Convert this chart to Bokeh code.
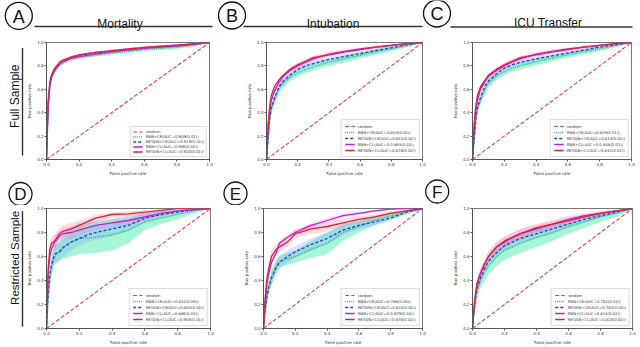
import math
import numpy as np
from bokeh.plotting import figure
from bokeh.layouts import column, row
from bokeh.models import Range1d, FixedTicker, PrintfTickFormatter
from bokeh.core.properties import value
from bokeh.embed import file_html
from bokeh.resources import INLINE

# ---------------- data ----------------
FPR = [0, .01, .02, .03, .05, .08, .1, .15, .2, .25, .3, .4, .5, .6, .7, .8, .9, 1.0]
RANDOM_FPR = [0, 1]
RANDOM_TPR = [0, 1]
TICKS = [0.0, 0.2, 0.4, 0.6, 0.8, 1.0]

COLUMN_TITLES = ["Mortality", "Intubation", "ICU Transfer"]
ROW_TITLES = ["Full Sample", "Restricted Sample"]
PANEL_LETTERS = ["A", "B", "C", "D", "E", "F"]
SERIES = ["RNN+CE", "RETAIN+CE", "RNN+CL", "RETAIN+CL"]

# Panel A - Mortality, full sample
A_RNN_CE = [0, .45, .62, .70, .76, .81, .83, .86, .875, .885, .895, .91, .925, .94, .95, .96, .975, 1]
A_RETAIN_CE = [0, .48, .64, .71, .77, .82, .84, .87, .89, .90, .91, .925, .94, .955, .965, .975, .985, 1]
A_RNN_CL = [0, .44, .62, .70, .76, .815, .835, .865, .88, .89, .90, .92, .935, .95, .96, .97, .985, 1]
A_RETAIN_CL = [0, .50, .66, .72, .78, .83, .85, .875, .895, .905, .915, .93, .945, .958, .968, .978, .99, 1]
A_RNN_CE_SD = [0, .03, .03, .025, .02, .02, .015, .015, .015, .015, .015, .015, .015, .015, .015, .015, .01, 0]
A_RETAIN_CE_SD = [0, .03, .025, .02, .015, .015, .012, .012, .012, .012, .012, .012, .01, .01, .01, .01, .008, 0]
A_RNN_CL_SD = [0, .03, .03, .025, .02, .02, .02, .02, .02, .02, .02, .015, .015, .015, .012, .012, .01, 0]
A_RETAIN_CL_SD = [0, .03, .025, .02, .015, .012, .01, .01, .01, .01, .01, .01, .01, .01, .008, .008, .006, 0]
A_AUC = ["0.909(0.01)", "0.919(0.01)", "0.906(0.02)", "0.920(0.01)"]

# Panel B - Intubation, full sample
B_RNN_CE = [0, .15, .33, .42, .50, .60, .64, .70, .74, .77, .79, .83, .86, .89, .92, .945, .975, 1]
B_RETAIN_CE = [0, .17, .35, .44, .52, .62, .66, .72, .77, .80, .82, .855, .88, .905, .93, .955, .98, 1]
B_RNN_CL = [0, .25, .40, .50, .58, .66, .70, .76, .80, .83, .86, .90, .925, .945, .96, .975, .99, 1]
B_RETAIN_CL = [0, .30, .45, .54, .62, .68, .71, .77, .81, .84, .87, .895, .92, .94, .96, .975, .99, 1]
B_RNN_CE_SD = [0, .03, .035, .035, .035, .035, .035, .03, .03, .03, .03, .03, .03, .025, .025, .02, .015, 0]
B_RETAIN_CE_SD = [0, .03, .03, .03, .025, .025, .025, .02, .02, .02, .02, .02, .02, .02, .015, .015, .01, 0]
B_RNN_CL_SD = [0, .03, .03, .03, .03, .025, .025, .025, .025, .025, .025, .02, .02, .015, .015, .01, .008, 0]
B_RETAIN_CL_SD = [0, .02, .02, .02, .02, .015, .015, .015, .015, .015, .015, .012, .012, .01, .01, .008, .005, 0]
B_AUC = ["0.834(0.02)", "0.851(0.02)", "0.0.883(0.02)", "0.878(0.02)"]

# Panel C - ICU transfer, full sample
C_RNN_CE = [0, .15, .32, .42, .50, .60, .65, .71, .75, .78, .80, .835, .865, .895, .92, .945, .975, 1]
C_RETAIN_CE = [0, .16, .34, .44, .53, .63, .67, .73, .78, .81, .83, .86, .885, .91, .935, .96, .98, 1]
C_RNN_CL = [0, .25, .40, .50, .60, .67, .71, .76, .80, .835, .86, .90, .925, .945, .96, .975, .99, 1]
C_RETAIN_CL = [0, .30, .45, .54, .62, .68, .72, .77, .81, .84, .87, .895, .92, .94, .96, .975, .99, 1]
C_RNN_CE_SD = [0, .03, .035, .035, .035, .035, .035, .03, .03, .03, .03, .03, .025, .025, .02, .02, .015, 0]
C_RETAIN_CE_SD = [0, .03, .03, .03, .03, .03, .025, .025, .02, .02, .02, .02, .02, .015, .015, .01, .01, 0]
C_RNN_CL_SD = [0, .03, .03, .03, .03, .025, .025, .025, .025, .025, .02, .02, .02, .015, .015, .01, .008, 0]
C_RETAIN_CL_SD = [0, .02, .02, .02, .02, .015, .015, .015, .015, .015, .015, .012, .012, .01, .01, .008, .005, 0]
C_AUC = ["0.829(0.01)", "0.814(0.02)", "0.0.848(0.01)", "0.841(0.01)"]

# Panel D - Mortality, restricted sample
D_RNN_CE = [0, .25, .40, .52, .61, .64, .68, .72, .75, .755, .76, .78, .82, .89, .92, .95, .98, 1]
D_RETAIN_CE = [0, .28, .45, .52, .62, .64, .67, .72, .75, .78, .80, .83, .86, .92, .95, .97, .99, 1]
D_RNN_CL = [0, .45, .60, .66, .72, .77, .79, .80, .82, .84, .86, .88, .90, .93, .96, .98, .99, 1]
D_RETAIN_CL = [0, .50, .66, .71, .73, .79, .81, .83, .86, .89, .92, .95, .955, .97, .985, 1.0, 1.0, 1]
D_RNN_CE_SD = [0, .05, .06, .07, .08, .08, .10, .12, .13, .13, .13, .13, .11, .07, .05, .04, .02, 0]
D_RETAIN_CE_SD = [0, .05, .06, .07, .07, .07, .07, .07, .06, .06, .06, .06, .05, .04, .03, .02, .01, 0]
D_RNN_CL_SD = [0, .06, .06, .06, .06, .05, .05, .05, .05, .04, .04, .04, .04, .03, .02, .01, .01, 0]
D_RETAIN_CL_SD = [0, .06, .06, .05, .05, .05, .05, .05, .04, .03, .03, .02, .02, .015, .01, 0, 0, 0]
D_AUC = ["0.831(0.03)", "0.855(0.02)", "0.886(0.03)", "0.908(0.01)"]

# Panel E - Intubation, restricted sample
E_RNN_CE = [0, .15, .25, .33, .42, .52, .56, .58, .60, .63, .66, .71, .80, .85, .90, .94, .97, 1]
E_RETAIN_CE = [0, .15, .25, .33, .42, .51, .55, .60, .64, .67, .70, .75, .82, .86, .89, .92, .97, 1]
E_RNN_CL = [0, .20, .35, .44, .55, .63, .71, .76, .80, .83, .86, .90, .94, .96, .98, .995, 1.0, 1]
E_RETAIN_CL = [0, .25, .40, .48, .60, .66, .68, .72, .79, .81, .83, .85, .88, .91, .93, .96, .98, 1]
E_RNN_CE_SD = [0, .04, .05, .05, .06, .06, .05, .05, .05, .06, .07, .09, .07, .05, .04, .03, .02, 0]
E_RETAIN_CE_SD = [0, .04, .05, .05, .05, .05, .05, .05, .05, .05, .05, .05, .04, .03, .03, .02, .01, 0]
E_RNN_CL_SD = [0, .03, .03, .03, .02, .02, .02, .02, .02, .02, .02, .02, .02, .015, .01, .005, 0, 0]
E_RETAIN_CL_SD = [0, .05, .05, .05, .05, .04, .04, .04, .04, .04, .04, .04, .03, .03, .02, .02, .01, 0]
E_AUC = ["0.786(0.03)", "0.845(0.02)", "0.0.879(0.02)", "0.878(0.02)"]

# Panel F - ICU transfer, restricted sample
F_RNN_CE = [0, .15, .25, .32, .40, .48, .52, .60, .65, .68, .71, .76, .80, .85, .89, .93, .96, 1]
F_RETAIN_CE = [0, .15, .26, .34, .42, .51, .56, .63, .69, .72, .75, .79, .83, .87, .91, .94, .97, 1]
F_RNN_CL = [0, .18, .30, .38, .46, .55, .60, .68, .72, .76, .79, .83, .87, .91, .94, .96, .98, 1]
F_RETAIN_CL = [0, .18, .30, .38, .46, .55, .60, .68, .73, .76, .79, .84, .87, .90, .93, .96, .98, 1]
F_RNN_CE_SD = [0, .04, .05, .06, .06, .07, .07, .08, .08, .08, .08, .08, .07, .06, .05, .04, .03, 0]
F_RETAIN_CE_SD = [0, .03, .04, .04, .04, .04, .04, .04, .04, .04, .04, .04, .04, .03, .03, .02, .01, 0]
F_RNN_CL_SD = [0, .03, .04, .04, .04, .04, .04, .04, .04, .04, .04, .03, .03, .03, .02, .02, .01, 0]
F_RETAIN_CL_SD = [0, .03, .04, .04, .04, .04, .04, .04, .04, .04, .04, .03, .03, .03, .02, .02, .01, 0]
F_AUC = ["0.781(0.01)", "0.762(0.03)", "0.814(0.02)", "0.818(0.02)"]

# ---------------- styling ----------------
RANDOM_COLOR = "#e8414e"
LINE_COLORS = ["#3cb371", "#2440d8", "#c020d0", "#e3203e"]
LINE_DASHES = ["1 1", "3 2", "solid", "solid"]
BAND_COLORS = ["#00e68a", "#6f8cff", "#e36cf0", "#ff6f7a"]
BAND_ALPHA = [0.35, 0.25, 0.22, 0.25]
AX_FONT = "DejaVu Sans"
TITLE_FONT = "Liberation Sans"


def roc_panel(w, h, bl, br, bt, bb, curves, sds, aucs, leg_h, leg_pad):
    p = figure(width=w, height=h, x_range=Range1d(0, 1), y_range=Range1d(0, 1),
               output_backend="svg", toolbar_location=None,
               min_border_left=bl, min_border_right=br, min_border_top=bt, min_border_bottom=bb)
    p.grid.visible = False
    p.outline_line_color = "#555555"
    p.outline_line_width = 0.8
    fpr = np.array(FPR)
    for y, sd, col, a in zip(curves, sds, BAND_COLORS, BAND_ALPHA):
        y = np.array(y)
        sd = np.array(sd)
        p.varea(x=fpr, y1=np.clip(y - sd, 0, 1), y2=np.clip(y + sd, 0, 1),
                fill_color=col, fill_alpha=a)
    p.line(RANDOM_FPR, RANDOM_TPR, line_color=RANDOM_COLOR, line_dash="4 2",
           line_width=1.1, legend_label="random")
    for name, y, auc, col, dash in zip(SERIES, curves, aucs, LINE_COLORS, LINE_DASHES):
        p.line(fpr, y, line_color=col, line_dash=dash, line_width=1.3,
               legend_label=f"{name}(AUC={auc})")
    for ax in (p.xaxis[0], p.yaxis[0]):
        ax.ticker = FixedTicker(ticks=TICKS)
        ax.formatter = PrintfTickFormatter(format="%.1f")
        ax.major_label_text_font_size = "4px"
        ax.major_label_text_font = AX_FONT
        ax.major_label_text_color = "#333333"
        ax.axis_label_text_font_size = "4px"
        ax.axis_label_text_font = AX_FONT
        ax.axis_label_text_font_style = "normal"
        ax.axis_label_text_color = "#333333"
        ax.major_tick_out = 2
        ax.major_tick_in = 0
        ax.minor_tick_out = 0
        ax.minor_tick_in = 0
        ax.major_label_standoff = 1
        ax.axis_label_standoff = 2
        ax.axis_line_color = "#555555"
        ax.major_tick_line_color = "#555555"
    p.xaxis[0].axis_label = "False positive rate"
    p.yaxis[0].axis_label = "True positive rate"
    lg = p.legend[0]
    lg.location = "bottom_right"
    lg.label_text_font_size = "3.8px"
    lg.label_text_font = AX_FONT
    lg.label_text_color = "#333333"
    lg.label_height = leg_h
    lg.glyph_height = leg_h
    lg.glyph_width = 10
    lg.label_standoff = 3
    lg.spacing = 0
    lg.padding = leg_pad
    lg.margin = 2
    lg.border_line_color = "#bbbbbb"
    lg.border_line_width = 0.6
    lg.background_fill_alpha = 0.85
    return p


def deco(w, h):
    p = figure(width=w, height=h, x_range=Range1d(0, w), y_range=Range1d(h, 0),
               output_backend="svg", toolbar_location=None, min_border=0,
               x_axis_location=None, y_axis_location=None)
    p.grid.visible = False
    p.outline_line_color = None
    return p


# ---------------- headers ----------------
H1 = deco(640, 31)
H1.scatter(x=[18.3, 231.5, 436.5], y=[15.3, 15, 13], size=27, marker="circle",
           fill_color=None, line_color="#111111", line_width=1.3)
H1.text(x=[18.3, 231.5, 436.5], y=[16, 15.7, 13.7], text=PANEL_LETTERS[:3],
        text_font=value(TITLE_FONT), text_font_size=value("18px"),
        text_align="center", text_baseline="middle", text_color="#111111")
H1.text(x=[119.5, 332.5, 547.5], y=[23.3, 23.3, 22.3], text=COLUMN_TITLES,
        text_font=value(TITLE_FONT), text_font_size=value("12px"),
        text_align="center", text_baseline="alphabetic", text_color="#111111")
H1.segment(x0=[34, 243, 450], y0=[26, 26, 26.5], x1=[212, 422, 632], y1=[26, 26, 26.5],
           line_color="#333333", line_width=1.4)

H2 = deco(640, 27)
H2.scatter(x=[20, 235, 436.7], y=[15.5, 15, 13], size=23, marker="circle",
           fill_color=None, line_color="#111111", line_width=1.3)
H2.text(x=[20, 235, 436.7], y=[16.1, 15.6, 13.6], text=PANEL_LETTERS[3:],
        text_font=value(TITLE_FONT), text_font_size=value("17px"),
        text_align="center", text_baseline="middle", text_color="#111111")

# ---------------- row labels ----------------
R1 = deco(24, 147)
R1.text(x=[14.8], y=[67.5], text=[ROW_TITLES[0]], angle=math.pi / 2,
        text_font=value(TITLE_FONT), text_font_size=value("12px"),
        text_align="center", text_baseline="middle", text_color="#111111")
R1.segment(x0=[22], y0=[7], x1=[22], y1=[142], line_color="#333333", line_width=1.4)

R2 = deco(24, 142)
R2.text(x=[14.8], y=[58.5], text=[ROW_TITLES[1]], angle=math.pi / 2,
        text_font=value(TITLE_FONT), text_font_size=value("11.5px"),
        text_align="center", text_baseline="middle", text_color="#111111")
R2.segment(x0=[22], y0=[3], x1=[22], y1=[140], line_color="#333333", line_width=1.4)

# ---------------- panels ----------------
pA = roc_panel(220, 147, 18, 35, 11, 15, [A_RNN_CE, A_RETAIN_CE, A_RNN_CL, A_RETAIN_CL],
               [A_RNN_CE_SD, A_RETAIN_CE_SD, A_RNN_CL_SD, A_RETAIN_CL_SD], A_AUC, 5, 2)
pB = roc_panel(206, 147, 18, 28, 11, 15, [B_RNN_CE, B_RETAIN_CE, B_RNN_CL, B_RETAIN_CL],
               [B_RNN_CE_SD, B_RETAIN_CE_SD, B_RNN_CL_SD, B_RETAIN_CL_SD], B_AUC, 6, 3)
pC = roc_panel(190, 147, 18, 9, 11, 15, [C_RNN_CE, C_RETAIN_CE, C_RNN_CL, C_RETAIN_CL],
               [C_RNN_CE_SD, C_RETAIN_CE_SD, C_RNN_CL_SD, C_RETAIN_CL_SD], C_AUC, 6, 3)
pD = roc_panel(217, 142, 21, 31, 3, 15, [D_RNN_CE, D_RETAIN_CE, D_RNN_CL, D_RETAIN_CL],
               [D_RNN_CE_SD, D_RETAIN_CE_SD, D_RNN_CL_SD, D_RETAIN_CL_SD], D_AUC, 6, 3)
pE = roc_panel(209, 142, 18, 28, 3, 15, [E_RNN_CE, E_RETAIN_CE, E_RNN_CL, E_RETAIN_CL],
               [E_RNN_CE_SD, E_RETAIN_CE_SD, E_RNN_CL_SD, E_RETAIN_CL_SD], E_AUC, 6, 3)
pF = roc_panel(190, 142, 18, 8, 3, 15, [F_RNN_CE, F_RETAIN_CE, F_RNN_CL, F_RETAIN_CL],
               [F_RNN_CE_SD, F_RETAIN_CE_SD, F_RNN_CL_SD, F_RETAIN_CL_SD], F_AUC, 6, 3)

layout = column(H1, row(R1, pA, pB, pC, spacing=0), H2, row(R2, pD, pE, pF, spacing=0), spacing=0)

open("out.html", "w").write(file_html(layout, INLINE))
